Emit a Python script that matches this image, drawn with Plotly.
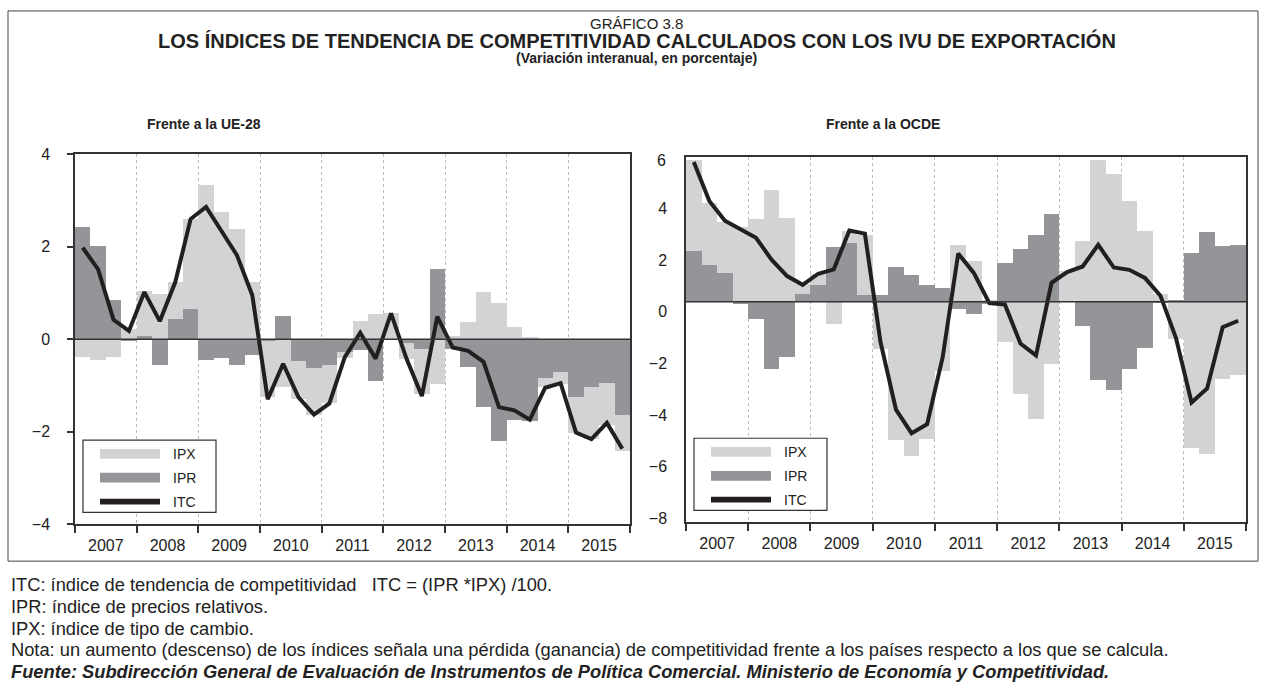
import plotly.graph_objects as go

W, H = 1266, 696

LIGHT_GRAY = "#d1d3d4"
DARK_GRAY = "#939598"
INK = "#231f20"
AXIS = "#333333"
GRID = "#bdbdbd"
FONT = "Liberation Sans, Arial, Helvetica, sans-serif"

YEARS = [str(y) for y in range(2007, 2016)]
QUARTERS = [f"{y} T{q}" for y in YEARS for q in range(1, 5)]

# Frente a la UE-28
IPR_UE = [2.42, 2.0, 0.84, -0.05, 0.06, -0.56, 0.44, 0.65, -0.46, -0.41, -0.56, -0.34,
          -0.05, 0.49, -0.47, -0.63, -0.56, -0.28, -0.25, -0.91, 0.0, -0.1, -0.21, 1.52,
          -0.21, -0.6, -1.47, -2.22, -1.75, -1.78, -0.84, -0.72, -1.26, -1.05, -0.95, -1.65]
IPX_UE = [-0.4, -0.46, -0.4, 0.22, 0.97, 0.98, 0.79, 1.94, 3.33, 2.74, 2.37, 1.23,
          -1.2, -1.05, -0.83, -1.02, -0.83, -0.14, 0.39, 0.53, 0.56, -0.33, -0.98, -0.98,
          0.06, 0.36, 1.02, 0.77, 0.25, 0.04, -0.21, -0.26, -0.77, -1.12, -0.91, -0.77]
ITC_UE = [1.98, 1.51, 0.42, 0.18, 1.02, 0.39, 1.23, 2.6, 2.86, 2.35, 1.82, 0.95,
          -1.3, -0.53, -1.26, -1.63, -1.39, -0.39, 0.14, -0.42, 0.56, -0.42, -1.23, 0.49,
          -0.18, -0.25, -0.49, -1.47, -1.54, -1.74, -1.05, -0.95, -2.02, -2.16, -1.81, -2.37]

# Frente a la OCDE
IPR_OCDE = [1.94, 1.41, 1.08, -0.11, -0.67, -2.62, -2.15, 0.28, 0.65, 2.09, 2.25, 0.25,
            0.24, 1.33, 1.03, 0.65, 0.52, -0.28, -0.47, -0.1, 1.48, 2.03, 2.55, 3.37,
            0.02, -0.97, -3.04, -3.42, -2.63, -1.82, -0.05, 0.05, 1.86, 2.68, 2.15, 2.18]
IPX_OCDE = [3.52, 2.41, 1.99, 2.88, 3.17, 4.3, 3.22, 0.4, 0.4, -0.87, 0.47, 2.31,
            -1.86, -5.37, -6.0, -5.31, -2.69, 2.18, 1.55, 0.04, -1.56, -3.57, -4.55, -2.43,
            1.14, 2.34, 5.45, 4.94, 3.87, 2.74, 0.29, -1.45, -5.69, -5.91, -3.0, -2.83]
ITC_OCDE = [5.4, 3.89, 3.13, 2.79, 2.47, 1.62, 0.99, 0.65, 1.08, 1.25, 2.75, 2.63,
            -1.55, -4.18, -5.09, -4.74, -2.15, 1.86, 1.11, -0.06, -0.11, -1.62, -2.08, 0.73,
            1.14, 1.36, 2.2, 1.32, 1.23, 0.92, 0.23, -1.41, -3.9, -3.36, -0.99, -0.74]

NOTES = [
    "ITC: índice de tendencia de competitividad\u00a0\u00a0 ITC = (IPR *IPX) /100.",
    "IPR: índice de precios relativos.",
    "IPX: índice de tipo de cambio.",
    "Nota: un aumento (descenso) de los índices señala una pérdida (ganancia) de "
    "competitividad frente a los países respecto a los que se calcula.",
]
SOURCE = ("Fuente: Subdirección General de Evaluación de Instrumentos de Política "
          "Comercial. Ministerio de Economía y Competitividad.")


def px(x):
    return x / W


def py(y):
    return 1 - y / H


X = list(range(len(QUARTERS)))
year_centers = [4 * i + 1.5 for i in range(len(YEARS))]
year_edges = [4 * i - 0.5 for i in range(len(YEARS) + 1)]

fig = go.Figure()
panels = [("x", "y", IPR_UE, IPX_UE, ITC_UE), ("x2", "y2", IPR_OCDE, IPX_OCDE, ITC_OCDE)]
for xa, ya, ipr, ipx, itc in panels:
    fig.add_trace(go.Bar(x=X, y=ipr, name="IPR", xaxis=xa, yaxis=ya, hovertext=QUARTERS,
                         marker=dict(color=DARK_GRAY, line=dict(width=0)), showlegend=False))
    fig.add_trace(go.Bar(x=X, y=ipx, name="IPX", xaxis=xa, yaxis=ya, hovertext=QUARTERS,
                         marker=dict(color=LIGHT_GRAY, line=dict(width=0)), showlegend=False))
    fig.add_trace(go.Scatter(x=X, y=itc, name="ITC", xaxis=xa, yaxis=ya, mode="lines",
                             hovertext=QUARTERS, line=dict(color=INK, width=4),
                             showlegend=False))


def xaxis_style(domain, anchor):
    return dict(
        domain=domain, anchor=anchor, range=[-0.5, len(X) - 0.5],
        tickmode="array", tickvals=year_centers, ticktext=YEARS, ticks="",
        ticklabelstandoff=6, showgrid=False, zeroline=False,
        showline=True, mirror=True, linecolor=AXIS, linewidth=1.5,
        tickfont=dict(size=16, color="#222"),
        minor=dict(tickmode="array", tickvals=year_edges, ticks="outside", ticklen=7,
                   tickcolor=AXIS, tickwidth=1.5, showgrid=True, gridcolor=GRID,
                   gridwidth=1, griddash="dot"),
    )


fig.update_layout(
    width=W, height=H, margin=dict(l=0, r=0, t=0, b=0),
    paper_bgcolor="white", plot_bgcolor="white",
    font=dict(family=FONT, color="#222"),
    barmode="relative", bargap=0, showlegend=False,
    xaxis=xaxis_style([px(75), px(630)], "y"),
    xaxis2=xaxis_style([px(686), px(1246)], "y2"),
    yaxis=dict(domain=[py(529), py(150)], anchor="x", range=[-4, 4],
               tickvals=[-4, -2, 0, 2, 4], ticks="outside", ticklen=6,
               tickcolor=AXIS, tickwidth=1.5, ticklabelstandoff=14,
               showgrid=False, zeroline=False, showline=True, mirror=True,
               linecolor=AXIS, linewidth=1.5, tickfont=dict(size=16, color="#222")),
    yaxis2=dict(domain=[py(527), py(153)], anchor="x2", range=[-8.53, 5.585],
                tickvals=[-8, -6, -4, -2, 0, 2, 4], ticks="", ticklabelshift=10,
                ticklabelstandoff=14, showgrid=False, zeroline=False,
                showline=True, mirror=True, linecolor=AXIS, linewidth=1.5,
                tickfont=dict(size=16, color="#222")),
)

shapes = []
# zero lines above the bars
for xa, ya in (("x", "y"), ("x2", "y2")):
    shapes.append(dict(type="line", xref=f"{xa} domain", yref=ya, x0=0, x1=1, y0=0, y1=0,
                       line=dict(color=AXIS, width=1.5), layer="above"))
# outer frame
shapes.append(dict(type="rect", xref="paper", yref="paper", x0=px(8), x1=px(1258),
                   y0=py(567), y1=py(3), line=dict(color="#444", width=1)))

annotations = [
    dict(text="GRÁFICO 3.8", x=0.503, y=py(16), font=dict(size=15)),
    dict(text="<b>LOS ÍNDICES DE TENDENCIA DE COMPETITIVIDAD CALCULADOS CON LOS IVU DE EXPORTACIÓN</b>",
         x=0.503, y=py(33), font=dict(size=20)),
    dict(text="<b>(Variación interanual, en porcentaje)</b>", x=0.503, y=py(51),
         font=dict(size=14)),
    dict(text="<b>Frente a la UE-28</b>", x=px(204), y=py(119), font=dict(size=14)),
    dict(text="<b>Frente a la OCDE</b>", x=px(883), y=py(119), font=dict(size=14)),
    dict(text="6", x=px(668), y=py(156), xanchor="right", font=dict(size=16)),
]
for i, line in enumerate(NOTES):
    annotations.append(dict(text=line, x=px(9), y=py(591 + 22.3 * i), xanchor="left",
                            font=dict(size=18.3)))
annotations.append(dict(text=f"<b><i>{SOURCE}</i></b>", x=px(9), y=py(680), xanchor="left",
                        font=dict(size=18.3)))

# legends drawn per panel
for dx, dy in ((0, 0), (611, -2)):
    shapes.append(dict(type="rect", xref="paper", yref="paper",
                       x0=px(83 + dx), x1=px(216 + dx), y0=py(517 + dy), y1=py(443 + dy),
                       line=dict(color=AXIS, width=1.2), fillcolor="white", layer="above"))
    for k, (label, color, kind) in enumerate((("IPX", LIGHT_GRAY, "bar"),
                                              ("IPR", DARK_GRAY, "bar"),
                                              ("ITC", INK, "line"))):
        yc = 457 + dy + 24.5 * k
        half = 5 if kind == "bar" else 3
        shapes.append(dict(type="rect", xref="paper", yref="paper",
                           x0=px(100 + dx), x1=px(160 + dx), y0=py(yc + half), y1=py(yc - half),
                           line=dict(width=0), fillcolor=color, layer="above"))
        annotations.append(dict(text=label, x=px(171 + dx), y=py(yc), xanchor="left",
                                font=dict(size=14)))

for a in annotations:
    a.setdefault("xref", "paper")
    a.setdefault("yref", "paper")
    a.setdefault("showarrow", False)
    a.setdefault("yanchor", "middle")
    a.setdefault("xanchor", "center")

fig.update_layout(shapes=shapes, annotations=annotations)

fig.write_html("out.html", config={"displayModeBar": False},
               post_script="document.body.style.margin='0';")
